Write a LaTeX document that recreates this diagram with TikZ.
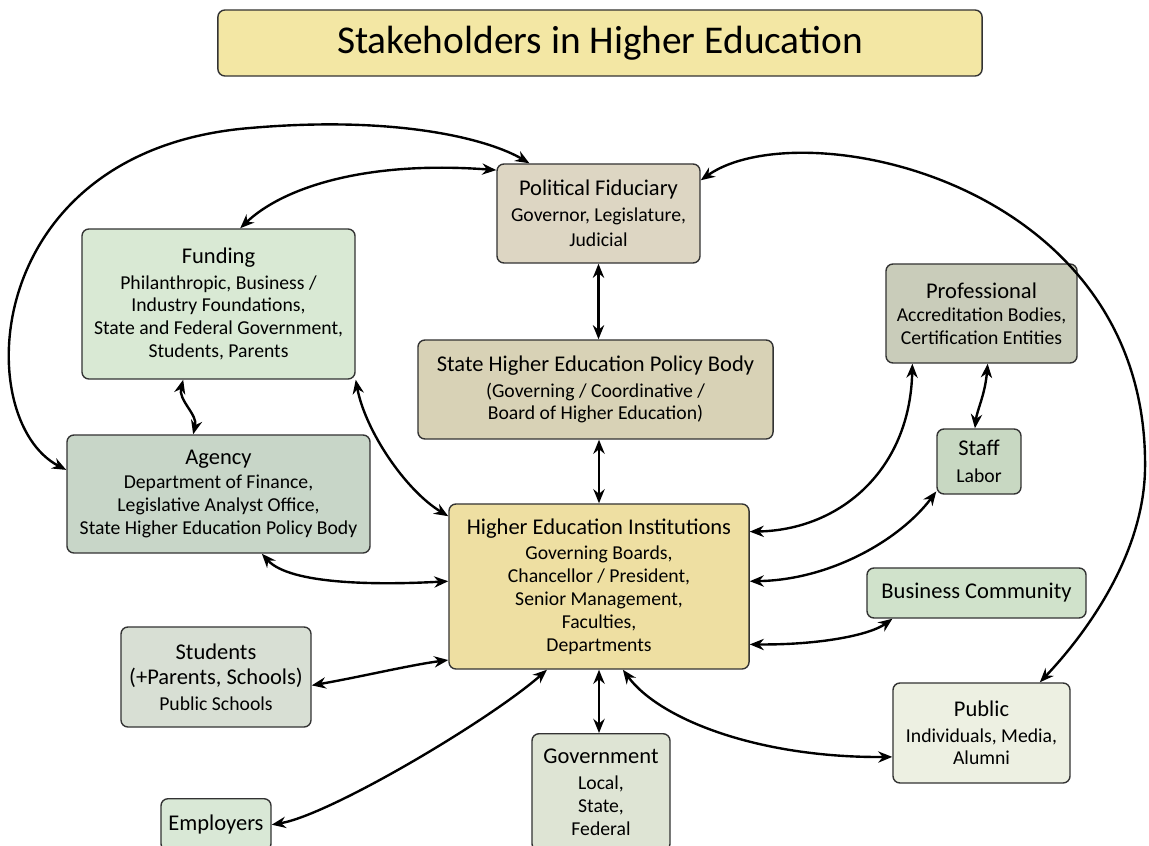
\documentclass[tikz,border=0pt]{standalone}
\usepackage{fontspec}
\setmainfont{Carlito}
\usepackage{tikz}
\usetikzlibrary{positioning,arrows.meta,calc}

\definecolor{titlefill}{HTML}{F3E7A4}
\definecolor{polfill}{HTML}{DDD6C3}
\definecolor{fundfill}{HTML}{D9E9D4}
\definecolor{policyfill}{HTML}{D8D2B6}
\definecolor{proffill}{HTML}{C9CCBA}
\definecolor{stafffill}{HTML}{C8D8C2}
\definecolor{agencyfill}{HTML}{C8D6C8}
\definecolor{heifill}{HTML}{EEDFA2}
\definecolor{bizfill}{HTML}{D0E2CB}
\definecolor{studfill}{HTML}{D8DFD4}
\definecolor{pubfill}{HTML}{EDF0E2}
\definecolor{govfill}{HTML}{DEE4D4}
\definecolor{empfill}{HTML}{D9E8D6}

\newcommand{\hd}[1]{{\fontsize{16}{20}\selectfont #1}}

\begin{document}
\begin{tikzpicture}[x=0.025cm,y=-0.025cm,>={Stealth[length=10pt,width=8pt]},
	box/.style={draw=black!80,line width=1pt,rounded corners=5pt,align=center,
		inner sep=2pt,font=\fontsize{14}{16.2}\selectfont},
	link/.style={<->,line width=1.7pt}]
\useasboundingbox (0,0) rectangle (1149,846);

% title
\node[box,fill=titlefill,minimum width=19.1cm,minimum height=1.65cm,
	font=\fontsize{28}{32}\selectfont] (Title) at (600,43) {Stakeholders in Higher Education};

% boxes
\node[box,fill=polfill,minimum width=5.075cm,minimum height=2.475cm] (PF) at (598.5,213.5)
	{\hd{Political Fiduciary}\\[2pt] Governor, Legislature,\\[2pt] Judicial};
\node[box,fill=fundfill,minimum width=6.825cm,minimum height=3.75cm] (Fund) at (218.5,304)
	{\hd{Funding}\\[2pt] Philanthropic, Business /\\ Industry Foundations,\\ State and Federal Government,\\ Students, Parents};
\node[box,fill=policyfill,minimum width=8.875cm,minimum height=2.475cm] (Policy) at (595.5,389.5)
	{\hd{State Higher Education Policy Body}\\[2pt] (Governing / Coordinative /\\ Board of Higher Education)};
\node[box,fill=proffill,minimum width=4.775cm,minimum height=2.475cm] (Prof) at (981.5,313.5)
	{\hd{Professional}\\ Accreditation Bodies,\\ Certification Entities};
\node[box,fill=stafffill,minimum width=2.1cm,minimum height=1.625cm] (Staff) at (979,461.5)
	{\hd{Staff}\\[3pt] Labor};
\node[box,fill=agencyfill,minimum width=7.575cm,minimum height=2.95cm] (Agency) at (218.5,494)
	{\hd{Agency}\\[1pt] Department of Finance,\\ Legislative Analyst Office,\\ State Higher Education Policy Body};
\node[box,fill=heifill,minimum width=7.5cm,minimum height=4.125cm] (HEI) at (599,586.5)
	{\hd{Higher Education Institutions}\\[2pt] Governing Boards,\\ Chancellor / President,\\ Senior Management,\\ Faculties,\\ Departments};
\node[box,fill=bizfill,minimum width=5.475cm,minimum height=1.25cm] (Biz) at (976.5,593)
	{\hd{Business Community}};
\node[box,fill=studfill,minimum width=4.75cm,minimum height=2.5cm] (Stud) at (216,677)
	{\hd{Students}\\[2pt] \hd{(+Parents, Schools)}\\[2pt] Public Schools};
\node[box,fill=pubfill,minimum width=4.425cm,minimum height=2.5cm] (Pub) at (981.5,733)
	{\hd{Public}\\[2pt] Individuals, Media,\\ Alumni};
\node[box,fill=govfill,minimum width=3.45cm,minimum height=2.925cm,anchor=north] (Gov) at (601,733)
	{\hd{Government}\\[2pt] Local,\\ State,\\ Federal};
\node[box,fill=empfill,minimum width=2.75cm,minimum height=1.3cm,anchor=north] (Emp) at (216,798)
	{\hd{Employers}};

% connectors
\draw[link] (Agency.171) .. controls (-30,420) and (-20,150) .. (250,128)
	.. controls (400,115) and (490,140) .. (PF.144);
\draw[link] (Fund.74) .. controls (280,190) and (360,160) .. (PF.157);
\draw[link] (Fund.245) .. controls (178,400) and (198,415) .. (Agency.113);
\draw[link] (Fund.south east) .. controls (365,430) and (405,490) .. (HEI.155);
\draw[link] (PF.south) -- (PF.south |- Policy.north);
\draw[link] (HEI.north |- Policy.south) -- (HEI.north);
\draw[link] (PF.18) .. controls (800,110) and (1150,180) .. (1145,470)
	.. controls (1143,560) and (1080,640) .. (Pub.41);
\draw[link] (HEI.20) .. controls (840,530) and (910,470) .. (Prof.216);
\draw[link] (Prof.277) .. controls (985,395) and (977,410) .. (Staff.97);
\draw[link] (HEI.2) .. controls (830,580) and (900,540) .. (Staff.215);
\draw[link] (HEI.339) .. controls (820,645) and (870,635) .. (Biz.197);
\draw[link] (HEI.286) .. controls (660,720) and (760,758) .. (Pub.195);
\draw[link] (HEI.south) -- (HEI.south |- Gov.north);
\draw[link] (HEI.238) .. controls (490,720) and (330,815) .. (Emp.east);
\draw[link] (Stud.355) .. controls (360,677) and (410,665) .. (HEI.206);
\draw[link] (Agency.306) .. controls (290,585) and (380,585) .. (HEI.178);
\end{tikzpicture}
\end{document}
